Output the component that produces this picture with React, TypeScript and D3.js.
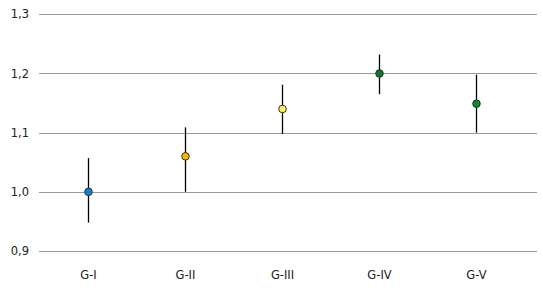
import React from "react";
import * as d3 from "d3";

const categories = ["G-I", "G-II", "G-III", "G-IV", "G-V"];
const means = [1.0, 1.06, 1.14, 1.2, 1.149];
const upper = [1.057, 1.109, 1.181, 1.232, 1.198];
const lower = [0.948, 1.0, 1.098, 1.165, 1.1];
const colors = ["#0a84d6", "#f5b800", "#fff05a", "#0a7a2a", "#0a8a2a"];
const yTicks = [0.9, 1.0, 1.1, 1.2, 1.3];

export default function App() {
  const W = 543, H = 292;
  const y = d3.scaleLinear().domain([0.9, 1.3]).range([251, 14.3]);
  const x = d3.scaleBand<string>().domain(categories).range([39.9, 524.4]);
  const fmt = (v: number) => v.toFixed(1).replace(".", ",");
  const font = "'DejaVu Sans', Verdana, sans-serif";
  return (
    <svg width={W} height={H} style={{ position: "absolute", left: 0, top: 0 }}>
      <rect width={W} height={H} fill="#fff" />
      {yTicks.map((t) => (
        <g key={t}>
          <line x1={39} x2={537} y1={Math.round(y(t)) + 0.5} y2={Math.round(y(t)) + 0.5} stroke="#999" strokeWidth={1} />
          <text x={29} y={y(t)} dy="0.35em" textAnchor="end" fontFamily={font} fontSize={11.5} fill="#222">
            {fmt(t)}
          </text>
        </g>
      ))}
      {categories.map((c, i) => {
        const cx = Math.round(x(c)! + x.bandwidth() / 2) + 0.5;
        return (
          <g key={c}>
            <line x1={cx} x2={cx} y1={y(upper[i])} y2={y(lower[i])} stroke="#000" strokeWidth={1.3} />
            <circle cx={cx} cy={y(means[i])} r={3.8} fill={colors[i]} stroke="#222" strokeWidth={0.9} />
            <text x={cx} y={275} dy="0.35em" textAnchor="middle" fontFamily={font} fontSize={11.5} fill="#222">
              {c}
            </text>
          </g>
        );
      })}
    </svg>
  );
}
